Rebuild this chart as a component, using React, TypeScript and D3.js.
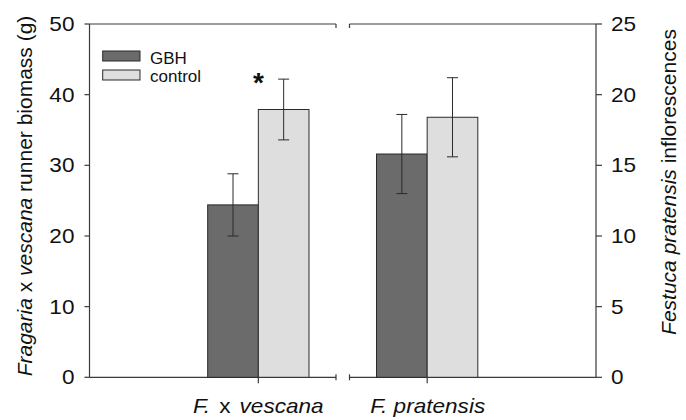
import React from "react";
import * as d3 from "d3";

const categories = ["F. x vescana", "F. pratensis"];
const series = ["GBH", "control"];
// F. x vescana on left axis (g), F. pratensis on right axis (count)
const gbhValues = [24.4, 15.8];
const gbhErrors = [4.4, 2.8];
const controlValues = [37.9, 18.4];
const controlErrors = [4.3, 2.8];
const leftTicks = [0, 10, 20, 30, 40, 50];
const rightTicks = [0, 5, 10, 15, 20, 25];
const significance = ["*", ""];

const W = 686;
const H = 420;
const FONT = "'Liberation Sans', Arial, Helvetica, sans-serif";
const AXIS = "#3a3a3a";
const DARK = "#6b6b6b";
const LIGHT = "#dedede";
const SX = 1.13;

function SText(props: any) {
  const { x, y, sx = SX, children, ...rest } = props;
  return (
    <g transform={`translate(${x},${y}) scale(${sx},1)`}>
      <text x={0} y={0} {...rest}>{children}</text>
    </g>
  );
}

export default function App() {
  const x = d3.scaleLinear().domain([0, 3]).range([89.5, 596]);
  const yL = d3.scaleLinear().domain([0, 50]).range([377.3, 24]);
  const yR = d3.scaleLinear().domain([0, 25]).range([377.3, 24]);
  const yScales = [yL, yR];
  const barW = x(1.3) - x(1);
  const leftEnd = x(1.46);
  const rightStart = x(1.54);
  const y0 = yL(0);
  const yTop = yL(50);

  const bars: any[] = [];
  categories.forEach((c, i) => {
    const cx = x(i + 1);
    const ys = yScales[i];
    [
      { v: gbhValues[i], e: gbhErrors[i], fill: DARK, x0: cx - barW },
      { v: controlValues[i], e: controlErrors[i], fill: LIGHT, x0: cx },
    ].forEach((b, j) => {
      const top = ys(b.v);
      const ex = b.x0 + barW / 2;
      bars.push(
        <g key={`b${i}-${j}`}>
          <rect x={b.x0} y={top} width={barW} height={y0 - top} fill={b.fill} stroke="#2a2a2a" strokeWidth={1} />
          <line x1={ex} x2={ex} y1={ys(b.v + b.e)} y2={ys(b.v - b.e)} stroke="#2a2a2a" strokeWidth={1} />
          <line x1={ex - 5.5} x2={ex + 5.5} y1={ys(b.v + b.e)} y2={ys(b.v + b.e)} stroke="#2a2a2a" strokeWidth={1} />
          <line x1={ex - 5.5} x2={ex + 5.5} y1={ys(b.v - b.e)} y2={ys(b.v - b.e)} stroke="#2a2a2a" strokeWidth={1} />
        </g>
      );
    });
  });

  return (
    <svg width={W} height={H} style={{ position: "absolute", left: 0, top: 0, background: "#fff" }} fontFamily={FONT}>
      {/* frames */}
      <g stroke={AXIS} strokeWidth={1.2} fill="none">
        <line x1={x(0)} x2={x(0)} y1={yTop} y2={y0} />
        <line x1={x(0)} x2={leftEnd} y1={yTop} y2={yTop} />
        <line x1={x(0)} x2={leftEnd} y1={y0} y2={y0} />
        <line x1={leftEnd} x2={leftEnd} y1={yTop} y2={yTop + 4} />
        <line x1={leftEnd} x2={leftEnd} y1={y0 - 3} y2={y0 + 3} />
        <line x1={x(3)} x2={x(3)} y1={yTop} y2={y0} />
        <line x1={rightStart} x2={x(3)} y1={yTop} y2={yTop} />
        <line x1={rightStart} x2={x(3)} y1={y0} y2={y0} />
        <line x1={rightStart} x2={rightStart} y1={yTop} y2={yTop + 4} />
        <line x1={rightStart} x2={rightStart} y1={y0 - 3} y2={y0 + 3} />
      </g>
      {bars}
      {/* category ticks */}
      {categories.map((c, i) => (
        <line key={`ct${i}`} x1={x(i + 1)} x2={x(i + 1)} y1={y0} y2={y0 + 6} stroke={AXIS} strokeWidth={1.2} />
      ))}
      {/* left axis ticks */}
      {leftTicks.map((t) => (
        <g key={`lt${t}`}>
          <line x1={x(0) - 5} x2={x(0)} y1={yL(t)} y2={yL(t)} stroke={AXIS} strokeWidth={1.2} />
          <SText x={74.5} y={yL(t) + 7} textAnchor="end" fontSize={20} fill="#111">{t}</SText>
        </g>
      ))}
      {rightTicks.map((t) => (
        <g key={`rt${t}`}>
          <line x1={x(3)} x2={x(3) + 6} y1={yR(t)} y2={yR(t)} stroke={AXIS} strokeWidth={1.2} />
          <SText x={611} y={yR(t) + 7} textAnchor="start" fontSize={20} fill="#111">{t}</SText>
        </g>
      ))}
      {/* category labels */}
      <SText x={x(1)} y={413} textAnchor="middle" fontSize={20} fill="#111">
        <tspan fontStyle="italic">F.</tspan>
        <tspan dx={8}>x</tspan>
        <tspan dx={8} fontStyle="italic">vescana</tspan>
      </SText>
      <SText x={x(2) + 0.5} y={413} textAnchor="middle" fontSize={20} fill="#111" fontStyle="italic">
        {categories[1]}
      </SText>
      {/* significance */}
      {significance.map((s, i) =>
        s ? (
          <text key={`s${i}`} x={x(i + 1)} y={91.5} textAnchor="middle" fontSize={28} fontWeight="bold" fill="#111">{s}</text>
        ) : null
      )}
      {/* legend */}
      {series.map((s, j) => (
        <g key={`lg${j}`}>
          <rect x={102.7} y={51 + j * 19} width={37.3} height={10} fill={j === 0 ? DARK : LIGHT} stroke="#2a2a2a" strokeWidth={1} />
          <text x={150} y={63.5 + j * 18.5} fontSize={17} fill="#111">{s}</text>
        </g>
      ))}
      {/* axis titles */}
      <text transform={`translate(32,196) rotate(-90)`} textAnchor="middle" fontSize={21} fill="#111">
        <tspan fontStyle="italic">Fragaria</tspan>
        <tspan> x </tspan>
        <tspan fontStyle="italic">vescana</tspan>
        <tspan> runner biomass (g)</tspan>
      </text>
      <text transform={`translate(676,182) rotate(-90)`} textAnchor="middle" fontSize={21} fill="#111">
        <tspan fontStyle="italic">Festuca pratensis</tspan>
        <tspan> inflorescences</tspan>
      </text>
    </svg>
  );
}
